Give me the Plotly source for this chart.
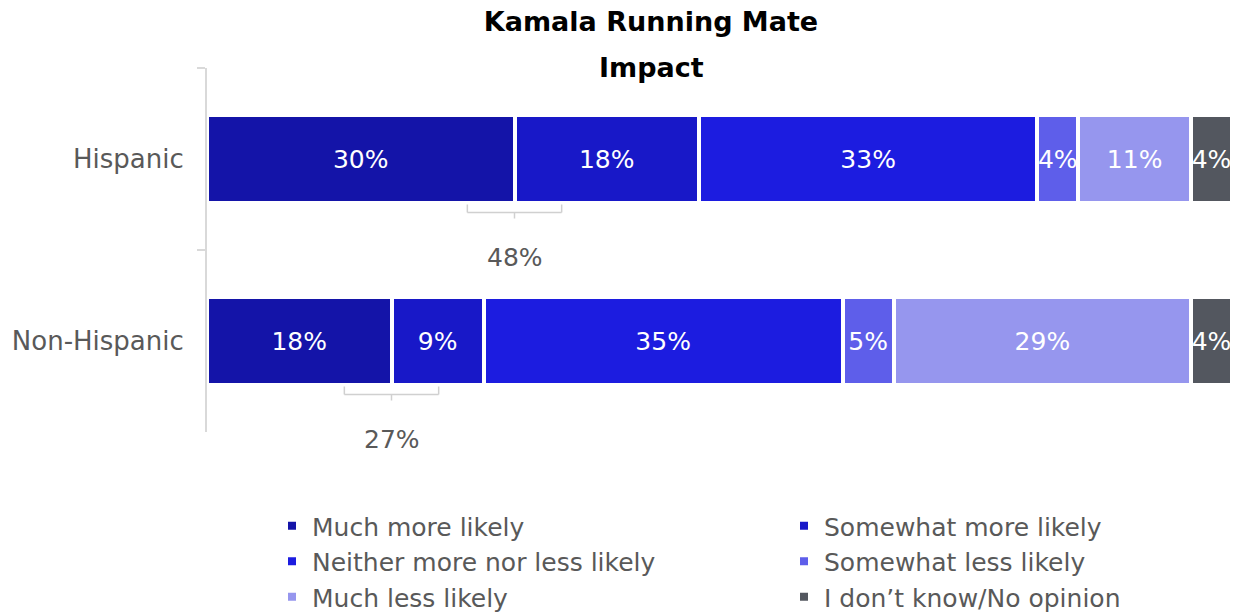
import plotly.graph_objects as go

categories = ["Hispanic", "Non-Hispanic"]
series_names = [
    "Much more likely",
    "Somewhat more likely",
    "Neither more nor less likely",
    "Somewhat less likely",
    "Much less likely",
    "I don\u2019t know/No opinion",
]
much_more = [30, 18]
somewhat_more = [18, 9]
neither = [33, 35]
somewhat_less = [4, 5]
much_less = [11, 29]
dont_know = [4, 4]

series_values = [much_more, somewhat_more, neither, somewhat_less, much_less, dont_know]
colors = ["#1414A8", "#1818C8", "#1C1CE0", "#5E5EEA", "#9696EE", "#53575F"]

FONT = "DejaVu Sans"
GRAY = "#595959"

# plot area in pixels
PL, PR, PT, PB = 207, 1232, 68, 432
Y_RANGE = [len(categories) - 0.5, -0.5]


def px_x(p):
    return (p - PL) / (PR - PL)


def px_y(p):
    return (PB - p) / (PB - PT)


def cat_to_paper(v):
    # category-axis value -> paper fraction (axis reversed)
    return (Y_RANGE[0] - v) / (Y_RANGE[0] - Y_RANGE[1])


fig = go.Figure()
for name, vals, col in zip(series_names, series_values, colors):
    fig.add_trace(go.Bar(
        y=categories, x=vals, name=name, orientation="h",
        marker=dict(color=col, line=dict(color="white", width=4)),
        text=[f"{v}%" for v in vals], textposition="inside",
        insidetextanchor="middle", textangle=0,
        textfont=dict(family=FONT, size=25, color="white"),
        constraintext="none", cliponaxis=False,
        width=0.48, hoverinfo="skip",
    ))

# brackets for combined "more likely"
shapes = []
annotations = []
half = 4.6
for i, cat in enumerate(categories):
    cx = much_more[i]
    y_top, y_mid, y_tick = i + 0.25, i + 0.294, i + 0.327
    lc = dict(color="#D0D0D0", width=1.5)
    shapes += [
        dict(type="line", xref="x", yref="paper", x0=cx - half, x1=cx - half,
             y0=cat_to_paper(y_top), y1=cat_to_paper(y_mid), line=lc),
        dict(type="line", xref="x", yref="paper", x0=cx + half, x1=cx + half,
             y0=cat_to_paper(y_top), y1=cat_to_paper(y_mid), line=lc),
        dict(type="line", xref="x", yref="paper", x0=cx - half, x1=cx + half,
             y0=cat_to_paper(y_mid), y1=cat_to_paper(y_mid), line=lc),
        dict(type="line", xref="x", yref="paper", x0=cx, x1=cx,
             y0=cat_to_paper(y_mid), y1=cat_to_paper(y_tick), line=lc),
    ]
    annotations.append(dict(
        x=cx, y=cat_to_paper(i + 0.54), xref="x", yref="paper",
        text=f"{much_more[i] + somewhat_more[i]}%", yanchor="middle",
        showarrow=False, font=dict(family=FONT, size=25, color=GRAY),
    ))

annotations.append(dict(
    x=px_x(651), y=px_y(67), xref="paper", yref="paper", text="<b>Impact</b>",
    showarrow=False, font=dict(family=FONT, size=27, color="#000000"), yanchor="middle",
))

fig.update_layout(
    width=1234, height=613,
    barmode="stack",
    paper_bgcolor="white", plot_bgcolor="white",
    margin=dict(l=PL, r=1234 - PR, t=PT, b=613 - PB, autoexpand=False),
    title=dict(text="<b>Kamala Running Mate</b>", x=651 / 1234, xanchor="center",
               y=1 - 22 / 613, yanchor="middle", yref="container",
               font=dict(family=FONT, size=27, color="#000000")),
    xaxis=dict(range=[0, 100], visible=False, fixedrange=True),
    yaxis=dict(
        type="category", categoryorder="array", categoryarray=categories,
        range=Y_RANGE, autorange=False,
        showline=True, linecolor="#D9D9D9", linewidth=2,
        ticks="outside", tickson="boundaries", ticklen=8, tickcolor="#D9D9D9", tickwidth=2,
        showgrid=False, tickfont=dict(family=FONT, size=26, color=GRAY),
        ticklabelstandoff=16, fixedrange=True,
    ),
    legend=dict(
        orientation="h", xref="container", yref="container",
        x=272 / 1234, xanchor="left", y=1 - 503 / 613, yanchor="top",
        font=dict(family=FONT, size=25, color=GRAY),
        entrywidth=467, entrywidthmode="pixels", traceorder="normal",
        tracegroupgap=0, itemclick=False, itemdoubleclick=False,
    ),
    shapes=shapes, annotations=annotations,
    showlegend=True,
)

fig.write_html(
    "out.html",
    config={"responsive": False, "displayModeBar": False},
    post_script="document.body.style.margin='0';document.body.style.overflow='hidden';",
)
